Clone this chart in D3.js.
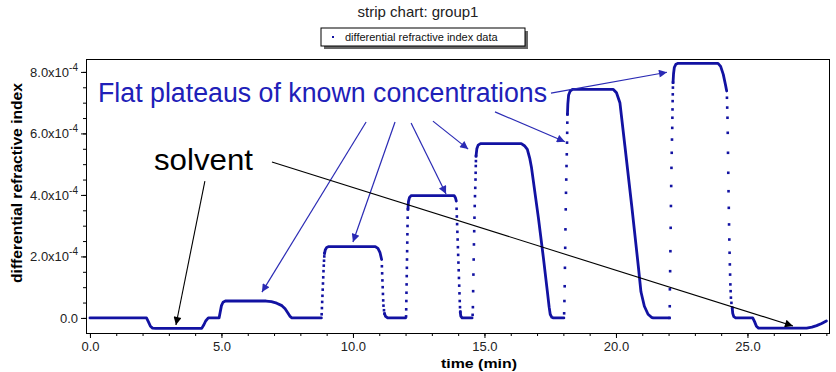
<!DOCTYPE html>
<html>
<head>
<meta charset="utf-8">
<script src="https://cdn.jsdelivr.net/npm/d3@7"></script>
<style>
  body { margin: 0; background: #fff; }
  svg { display: block; font-family: "Liberation Sans", Arial, sans-serif; }
</style>
</head>
<body>
<div id="chart"></div>
<script>
const width = 836;
const height = 372;

// Values in units of 1e-4 (refractive index), time in minutes
// Dense parts of the strip chart (points run together into a line)
const traceSegments = [
  [[0, 0], [2.15, 0], [2.22, -0.12], [2.3, -0.27], [2.38, -0.33], [2.5, -0.34], [4.25, -0.34], [4.32, -0.24],
   [4.4, -0.1], [4.5, 0], [4.91, 0], [4.95, 0.18], [5.0, 0.4], [5.06, 0.51], [5.15, 0.55], [6.7, 0.55],
   [6.9, 0.53], [7.1, 0.48], [7.3, 0.4], [7.42, 0.3], [7.52, 0.17], [7.6, 0.06], [7.68, 0], [8.8, 0]],
  [[8.92, 2.1], [8.95, 2.22], [9.0, 2.29], [9.08, 2.32], [10.85, 2.32], [10.95, 2.26], [11.03, 2.12], [11.09, 1.9]],
  [[11.2, 0.14], [11.24, 0.05], [11.32, 0], [12.0, 0]],
  [[12.09, 3.53], [12.11, 3.78], [12.15, 3.92], [12.22, 3.98], [13.85, 3.98], [13.9, 3.9], [13.93, 3.8]],
  [[14.08, 0.2], [14.1, 0.06], [14.15, 0], [14.53, 0]],
  [[14.68, 5.26], [14.71, 5.5], [14.76, 5.62], [14.85, 5.67], [16.4, 5.67], [16.52, 5.6], [16.63, 5.48],
   [16.72, 5.2], [16.79, 4.88], [17.05, 3.26], [17.24, 1.96], [17.39, 0.87], [17.46, 0.35], [17.5, 0.12],
   [17.56, 0.02], [17.62, 0], [18.02, 0]],
  [[18.155, 6.62], [18.17, 6.95], [18.2, 7.25], [18.26, 7.38], [18.35, 7.43], [19.9, 7.43], [20.02, 7.32],
   [20.15, 7.0], [20.34, 5.59], [20.6, 3.64], [20.85, 1.68], [20.95, 0.85], [21.08, 0.38], [21.22, 0.12],
   [21.35, 0.02], [21.42, 0], [22.02, 0]],
  [[22.17, 7.65], [22.19, 7.95], [22.22, 8.15], [22.28, 8.25], [22.36, 8.28], [23.88, 8.28], [23.98, 8.18],
   [24.08, 7.92], [24.16, 7.6], [24.21, 7.38]],
  [[24.42, 0.33], [24.44, 0.15], [24.48, 0.04], [24.55, 0], [25.2, 0], [25.27, -0.12], [25.34, -0.27],
   [25.42, -0.33], [27.25, -0.33], [27.45, -0.3], [27.63, -0.25], [27.82, -0.18], [28.0, -0.1]]
];

// Sparse points on the steep edges (sample dots spread out)
const edgeDots = [
  [[8.81, 0.12], [8.82, 0.32], [8.83, 0.52], [8.84, 0.72], [8.85, 0.92], [8.86, 1.12], [8.87, 1.32],
   [8.88, 1.52], [8.89, 1.7], [8.9, 1.86], [8.91, 2.0], [8.92, 2.1]],
  [[11.1, 1.68], [11.11, 1.45], [11.12, 1.22], [11.13, 1.0], [11.14, 0.78], [11.15, 0.57], [11.16, 0.4],
   [11.18, 0.25], [11.2, 0.14]],
  [[12.02, 0.05], [12.025, 0.28], [12.03, 0.55], [12.035, 0.82], [12.04, 1.09], [12.045, 1.36], [12.05, 1.63],
   [12.055, 1.9], [12.06, 2.17], [12.065, 2.45], [12.07, 2.72], [12.075, 2.99], [12.08, 3.26], [12.09, 3.53]],
  [[13.94, 3.55], [13.95, 3.3], [13.96, 3.05], [13.97, 2.8], [13.98, 2.55], [13.99, 2.3], [14.0, 2.05],
   [14.01, 1.8], [14.02, 1.55], [14.03, 1.3], [14.04, 1.05], [14.05, 0.8], [14.06, 0.55], [14.07, 0.35], [14.08, 0.2]],
  [[14.55, 0.1], [14.56, 0.35], [14.57, 0.87], [14.58, 1.41], [14.59, 1.9], [14.6, 2.39], [14.61, 2.82],
   [14.62, 3.26], [14.63, 3.64], [14.64, 3.96], [14.65, 4.23], [14.66, 4.5], [14.665, 4.72], [14.67, 4.94],
   [14.675, 5.1], [14.68, 5.26]],
  [[18.03, 0.15], [18.04, 0.55], [18.05, 1.03], [18.06, 1.63], [18.07, 2.28], [18.08, 2.88], [18.09, 3.53],
   [18.1, 4.07], [18.11, 4.5], [18.12, 4.94], [18.13, 5.32], [18.14, 5.7], [18.145, 6.02], [18.15, 6.35], [18.155, 6.62]],
  [[22.04, 0.0], [22.045, 0.38], [22.05, 0.93], [22.06, 1.52], [22.07, 2.17], [22.08, 2.93], [22.09, 3.64],
   [22.1, 4.29], [22.11, 4.88], [22.12, 5.37], [22.13, 5.8], [22.14, 6.18], [22.145, 6.51], [22.15, 6.78],
   [22.155, 7.05], [22.16, 7.27], [22.165, 7.49], [22.17, 7.65]],
  [[24.22, 7.16], [24.23, 6.84], [24.24, 6.51], [24.25, 6.02], [24.26, 5.37], [24.27, 4.72], [24.28, 4.12],
   [24.29, 3.58], [24.3, 3.04], [24.31, 2.55], [24.32, 2.12], [24.33, 1.74], [24.34, 1.41], [24.35, 1.09],
   [24.36, 0.87], [24.37, 0.66], [24.39, 0.49], [24.42, 0.33]]
];

const xMajorTicks = [0, 5, 10, 15, 20, 25];
const xMinorTicks = d3.range(0, 29, 1);
const yMajorTicks = [0, 2, 4, 6, 8];
const yMinorTicks = d3.range(0, 8.5, 0.5);

// Annotation arrows: [fromTime, fromValue, toTime, toValue]
const blueArrows = [
  [10.5, 6.37, 6.54, 0.84],
  [11.6, 6.37, 10.0, 2.47],
  [12.21, 6.34, 13.54, 4.03],
  [13.04, 6.4, 14.38, 5.49],
  [15.4, 6.7, 18.06, 5.73],
  [17.53, 7.31, 21.94, 7.99]
];
const blackArrows = [
  [4.37, 4.45, 3.27, -0.23],
  [6.92, 5.07, 26.73, -0.26]
];

const margin = { top: 59, right: 7, bottom: 39, left: 86 };
const traceColor = "#1212a2";

const svg = d3.select("#chart")
  .append("svg")
  .attr("width", width)
  .attr("height", height);

const x = d3.scaleLinear().domain([-0.15, 28.1]).range([margin.left, width - margin.right]);
const y = d3.scaleLinear().domain([-0.49, 8.42]).range([height - margin.bottom, margin.top]);

// Title
svg.append("text")
  .attr("x", 418)
  .attr("y", 17)
  .attr("text-anchor", "middle")
  .attr("font-size", "15px")
  .attr("fill", "#222")
  .text("strip chart: group1");

// Legend with drop shadow
svg.append("rect")
  .attr("x", 324).attr("y", 31).attr("width", 204).attr("height", 18)
  .attr("fill", "#666");
svg.append("rect")
  .attr("x", 321).attr("y", 28).attr("width", 204).attr("height", 18)
  .attr("fill", "#fff").attr("stroke", "#000");
svg.append("rect")
  .attr("x", 332).attr("y", 36).attr("width", 2).attr("height", 2)
  .attr("fill", traceColor);
svg.append("text")
  .attr("x", 345)
  .attr("y", 41)
  .attr("font-size", "11px")
  .attr("fill", "#111")
  .text("differential refractive index data");

// Axes
const xAxisY = height - margin.bottom;
svg.append("g")
  .attr("transform", `translate(0,${xAxisY})`)
  .call(d3.axisBottom(x).tickValues(xMinorTicks).tickSize(3).tickFormat(""))
  .call(g => g.select(".domain").remove());
svg.append("g")
  .attr("transform", `translate(0,${xAxisY})`)
  .call(d3.axisBottom(x).tickValues(xMajorTicks).tickSize(5).tickPadding(4).tickFormat(d3.format(".1f")))
  .call(g => g.select(".domain").remove())
  .call(g => g.selectAll(".tick text").attr("font-size", "13px").attr("font-family", null).attr("fill", "#222"));

svg.append("g")
  .attr("transform", `translate(${margin.left},0)`)
  .call(d3.axisLeft(y).tickValues(yMinorTicks).tickSize(3).tickFormat(""))
  .call(g => g.select(".domain").remove());
svg.append("g")
  .attr("transform", `translate(${margin.left},0)`)
  .call(d3.axisLeft(y).tickValues(yMajorTicks).tickSize(5).tickPadding(3).tickFormat(""))
  .call(g => g.select(".domain").remove())
  .call(g => g.selectAll(".tick text").each(function(d) {
    const t = d3.select(this)
      .attr("font-size", "13px")
      .attr("font-family", null)
      .attr("fill", "#222");
    if (d === 0) {
      t.text("0.0");
    } else {
      t.append("tspan").text(d.toFixed(1) + "x10");
      t.append("tspan").attr("dy", "-6").attr("font-size", "10px").text("-4");
    }
  }));

// Plot frame
svg.append("rect")
  .attr("x", margin.left + 0.5)
  .attr("y", margin.top + 0.5)
  .attr("width", width - margin.right - margin.left)
  .attr("height", height - margin.bottom - margin.top)
  .attr("fill", "none")
  .attr("stroke", "#000");

// Axis titles
svg.append("text")
  .attr("x", 479)
  .attr("y", 368)
  .attr("text-anchor", "middle")
  .attr("font-size", "13px")
  .attr("font-weight", "bold")
  .attr("textLength", 76)
  .attr("lengthAdjust", "spacingAndGlyphs")
  .text("time (min)");

svg.append("text")
  .attr("transform", "translate(22,183) rotate(-90)")
  .attr("text-anchor", "middle")
  .attr("font-size", "15px")
  .attr("font-weight", "bold")
  .attr("textLength", 200)
  .attr("lengthAdjust", "spacingAndGlyphs")
  .text("differential refractive index");

// Data trace
const line = d3.line().x(d => x(d[0])).y(d => y(d[1]));

svg.append("g")
  .selectAll("path")
  .data(traceSegments)
  .join("path")
  .attr("d", line)
  .attr("fill", "none")
  .attr("stroke", traceColor)
  .attr("stroke-width", 2.8)
  .attr("stroke-linejoin", "round")
  .attr("stroke-linecap", "round");

svg.append("g")
  .selectAll("rect")
  .data(edgeDots.flat())
  .join("rect")
  .attr("x", d => x(d[0]) - 1.3)
  .attr("y", d => y(d[1]) - 1.3)
  .attr("width", 2.6)
  .attr("height", 2.6)
  .attr("fill", traceColor);

// Arrow heads
const defs = svg.append("defs");
const addMarker = (id, color) => {
  defs.append("marker")
    .attr("id", id)
    .attr("viewBox", "0 0 10 10")
    .attr("refX", 10)
    .attr("refY", 5)
    .attr("markerUnits", "userSpaceOnUse")
    .attr("markerWidth", 11)
    .attr("markerHeight", 8)
    .attr("orient", "auto")
    .append("path")
    .attr("d", "M0,0 L10,5 L0,10 Z")
    .attr("fill", color);
};
addMarker("head-blue", "#2a2ab4");
addMarker("head-black", "#000");

svg.append("g")
  .selectAll("line")
  .data(blueArrows)
  .join("line")
  .attr("x1", d => x(d[0])).attr("y1", d => y(d[1]))
  .attr("x2", d => x(d[2])).attr("y2", d => y(d[3]))
  .attr("stroke", "#2a2ab4")
  .attr("stroke-width", 1.2)
  .attr("marker-end", "url(#head-blue)");

svg.append("g")
  .selectAll("line")
  .data(blackArrows)
  .join("line")
  .attr("x1", d => x(d[0])).attr("y1", d => y(d[1]))
  .attr("x2", d => x(d[2])).attr("y2", d => y(d[3]))
  .attr("stroke", "#000")
  .attr("stroke-width", 1.1)
  .attr("marker-end", "url(#head-black)");

// Annotation text
svg.append("text")
  .attr("x", 98)
  .attr("y", 102)
  .attr("font-size", "27px")
  .attr("fill", "#2020b8")
  .attr("textLength", 449)
  .attr("lengthAdjust", "spacingAndGlyphs")
  .text("Flat plateaus of known concentrations");

svg.append("text")
  .attr("x", 154)
  .attr("y", 170)
  .attr("font-size", "30px")
  .attr("fill", "#000")
  .attr("textLength", 99)
  .attr("lengthAdjust", "spacingAndGlyphs")
  .text("solvent");
</script>
</body>
</html>
